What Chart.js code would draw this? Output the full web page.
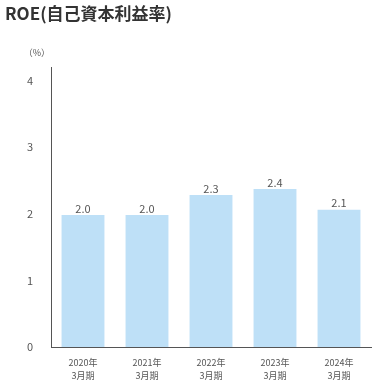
<!DOCTYPE html>
<html>
<head>
<meta charset="utf-8">
<script src="https://cdn.jsdelivr.net/npm/chart.js@4/dist/chart.umd.min.js"></script>
<style>
  html, body { margin: 0; padding: 0; background: #fff; }
  #wrap { width: 372px; height: 381px; position: relative; }
</style>
</head>
<body>
<div id="wrap"><canvas id="roeChart"></canvas></div>
<script>
const chartTitle = 'ROE(自己資本利益率)';
const unitLabel = '（%）';
const years = ['2020年', '2021年', '2022年', '2023年', '2024年'];
const periods = ['3月期', '3月期', '3月期', '3月期', '3月期'];
const roeValues = [1.98, 1.98, 2.28, 2.37, 2.06];
const yTicks = [0, 1, 2, 3, 4];

const FONT = "'Noto Sans CJK JP', 'Noto Sans', sans-serif";
const TEXT = '#555';

// title, unit label and bar values
const extraText = {
    id: 'extraText',
    afterDraw(chart) {
        const ctx = chart.ctx;
        ctx.save();
        ctx.fillStyle = '#333';
        ctx.font = 'bold 17px ' + FONT;
        ctx.textAlign = 'left';
        ctx.textBaseline = 'alphabetic';
        ctx.fillText(chartTitle, 5, 20);

        ctx.fillStyle = TEXT;
        ctx.font = '9px ' + FONT;
        ctx.textAlign = 'right';
        ctx.textBaseline = 'middle';
        ctx.fillText(unitLabel, 50, 53);

        ctx.font = '11px ' + FONT;
        ctx.textAlign = 'center';
        ctx.textBaseline = 'bottom';
        const meta = chart.getDatasetMeta(0);
        meta.data.forEach((bar, i) => {
            ctx.fillText(roeValues[i].toFixed(1), bar.x, bar.y - 1);
        });
        ctx.restore();
    }
};

new Chart(document.getElementById('roeChart'), {
    type: 'bar',
    data: {
        labels: years.map((y, i) => [y, periods[i]]),
        datasets: [{
            data: roeValues,
            backgroundColor: '#bee0f7',
            categoryPercentage: 0.67,
            barPercentage: 1.0
        }]
    },
    options: {
        responsive: true,
        maintainAspectRatio: false,
        animation: false,
        layout: { padding: { left: 0, right: 1, top: 67, bottom: 0 } },
        plugins: {
            legend: { display: false },
            tooltip: { enabled: false }
        },
        scales: {
            x: {
                grid: { display: false },
                border: { display: true, color: '#555', width: 1 },
                ticks: { color: TEXT, font: { family: FONT, size: 9, lineHeight: 1.45 }, padding: 1, maxRotation: 0 },
                afterFit(scale) { scale.height = 34; }
            },
            y: {
                min: 0,
                max: 4.2,
                grid: { display: false },
                border: { display: true, color: '#555', width: 1 },
                afterBuildTicks(scale) { scale.ticks = yTicks.map(v => ({ value: v })); },
                ticks: { color: TEXT, font: { family: FONT, size: 11 }, padding: 10 },
                afterFit(scale) { scale.width = 51; }
            }
        }
    },
    plugins: [extraText]
});
</script>
</body>
</html>
